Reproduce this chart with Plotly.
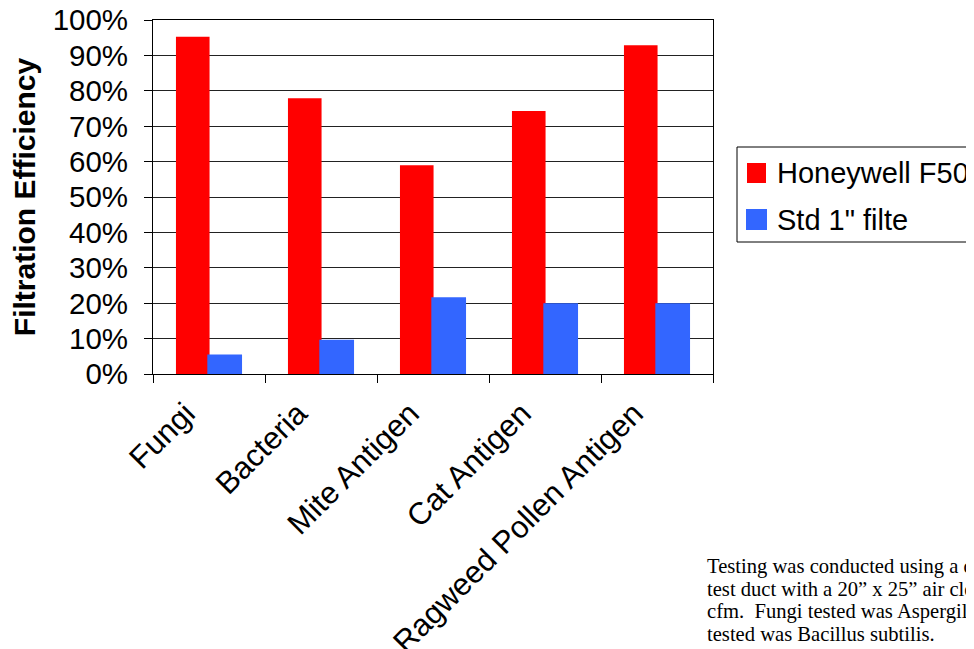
import plotly.graph_objects as go

categories = ["Fungi", "Bacteria", "Mite Antigen", "Cat Antigen", "Ragweed Pollen Antigen"]
honeywell = [95.3, 77.9, 59.0, 74.3, 92.9]
std_filter = [5.5, 9.7, 21.7, 20.0, 20.0]
y_ticks = [0, 10, 20, 30, 40, 50, 60, 70, 80, 90, 100]
y_tick_labels = ["0%", "10%", "20%", "30%", "40%", "50%", "60%", "70%", "80%", "90%", "100%"]
series_names = ["Honeywell F50", "Std 1\" filte"]
series_colors = ["#FF0000", "#3366FF"]
note_lines = [
    "Testing was conducted using a d",
    "test duct with a 20\u201d x 25\u201d air cleaner",
    "cfm.  Fungi tested was Aspergillus",
    "tested was Bacillus subtilis.",
]

OFF = 8  # page body margin
W, H = 974, 649
L, T = 153 - OFF, 20 - OFF
pw, ph = 560, 354
R = W - L - pw
B = H - T - ph


def px_x(x):
    return (x - OFF - L) / pw


def px_y(y):
    return (T + ph - (y - OFF)) / ph


fig = go.Figure()
fig.add_trace(go.Bar(x=categories, y=honeywell, name=series_names[0],
                     marker=dict(color=series_colors[0], line=dict(width=0)),
                     width=0.30, offset=-0.295, showlegend=False))
fig.add_trace(go.Bar(x=categories, y=std_filter, name=series_names[1],
                     marker=dict(color=series_colors[1], line=dict(width=0)),
                     width=0.31, offset=-0.015, showlegend=False))

font = "Liberation Sans, Arial, sans-serif"

fig.update_layout(
    width=W, height=H,
    margin=dict(l=L, r=R, t=T, b=B, autoexpand=False),
    barmode="overlay",
    paper_bgcolor="white", plot_bgcolor="white",
    font=dict(family=font, color="black", size=29),
    showlegend=False,
)
fig.update_xaxes(
    type="category", tickangle=-45, tickfont=dict(size=31),
    ticks="outside", ticklen=8, tickcolor="black", tickson="boundaries",
    ticklabelshift=-23, ticklabelstandoff=8, ticklabeloverflow="allow",
    showline=True, linecolor="black", linewidth=1, mirror=True,
    showgrid=False,
)
fig.update_yaxes(
    range=[0, 100], tickvals=y_ticks, ticktext=y_tick_labels,
    tickfont=dict(size=29.5), ticks="outside", ticklen=8, tickcolor="black",
    ticklabelstandoff=10, ticklabeloverflow="allow",
    showline=True, linecolor="black", linewidth=1, mirror=True,
    showgrid=True, gridcolor="#222222", gridwidth=1, zeroline=False,
    title=dict(text="<b>Filtration Efficiency</b>", font=dict(size=30), standoff=11),
)

# legend box
fig.add_shape(type="rect", xref="paper", yref="paper",
              x0=px_x(737), x1=px_x(1010), y0=px_y(242), y1=px_y(147),
              line=dict(color="black", width=1), fillcolor="white", layer="above")
legend_rows = [(163, 183, 747, 766, 173), (209, 230, 746, 767, 220)]
for (ya, yb, xa, xb, yc), name, col in zip(legend_rows, series_names, series_colors):
    fig.add_shape(type="rect", xref="paper", yref="paper",
                  x0=px_x(xa), x1=px_x(xb), y0=px_y(yb), y1=px_y(ya),
                  line=dict(width=0), fillcolor=col, layer="above")
    fig.add_annotation(xref="paper", yref="paper", x=px_x(775), y=px_y(yc),
                       xanchor="left", yanchor="middle", showarrow=False,
                       text=name, font=dict(size=29, family=font, color="black"))

for i, line in enumerate(note_lines):
    fig.add_annotation(xref="paper", yref="paper", x=px_x(705), y=px_y(566 + i * 22.7),
                       xanchor="left", yanchor="middle", showarrow=False,
                       text=line,
                       font=dict(size=20.6, family="Liberation Serif, Times New Roman, serif",
                                 color="black"))

fig.write_html("out.html")
